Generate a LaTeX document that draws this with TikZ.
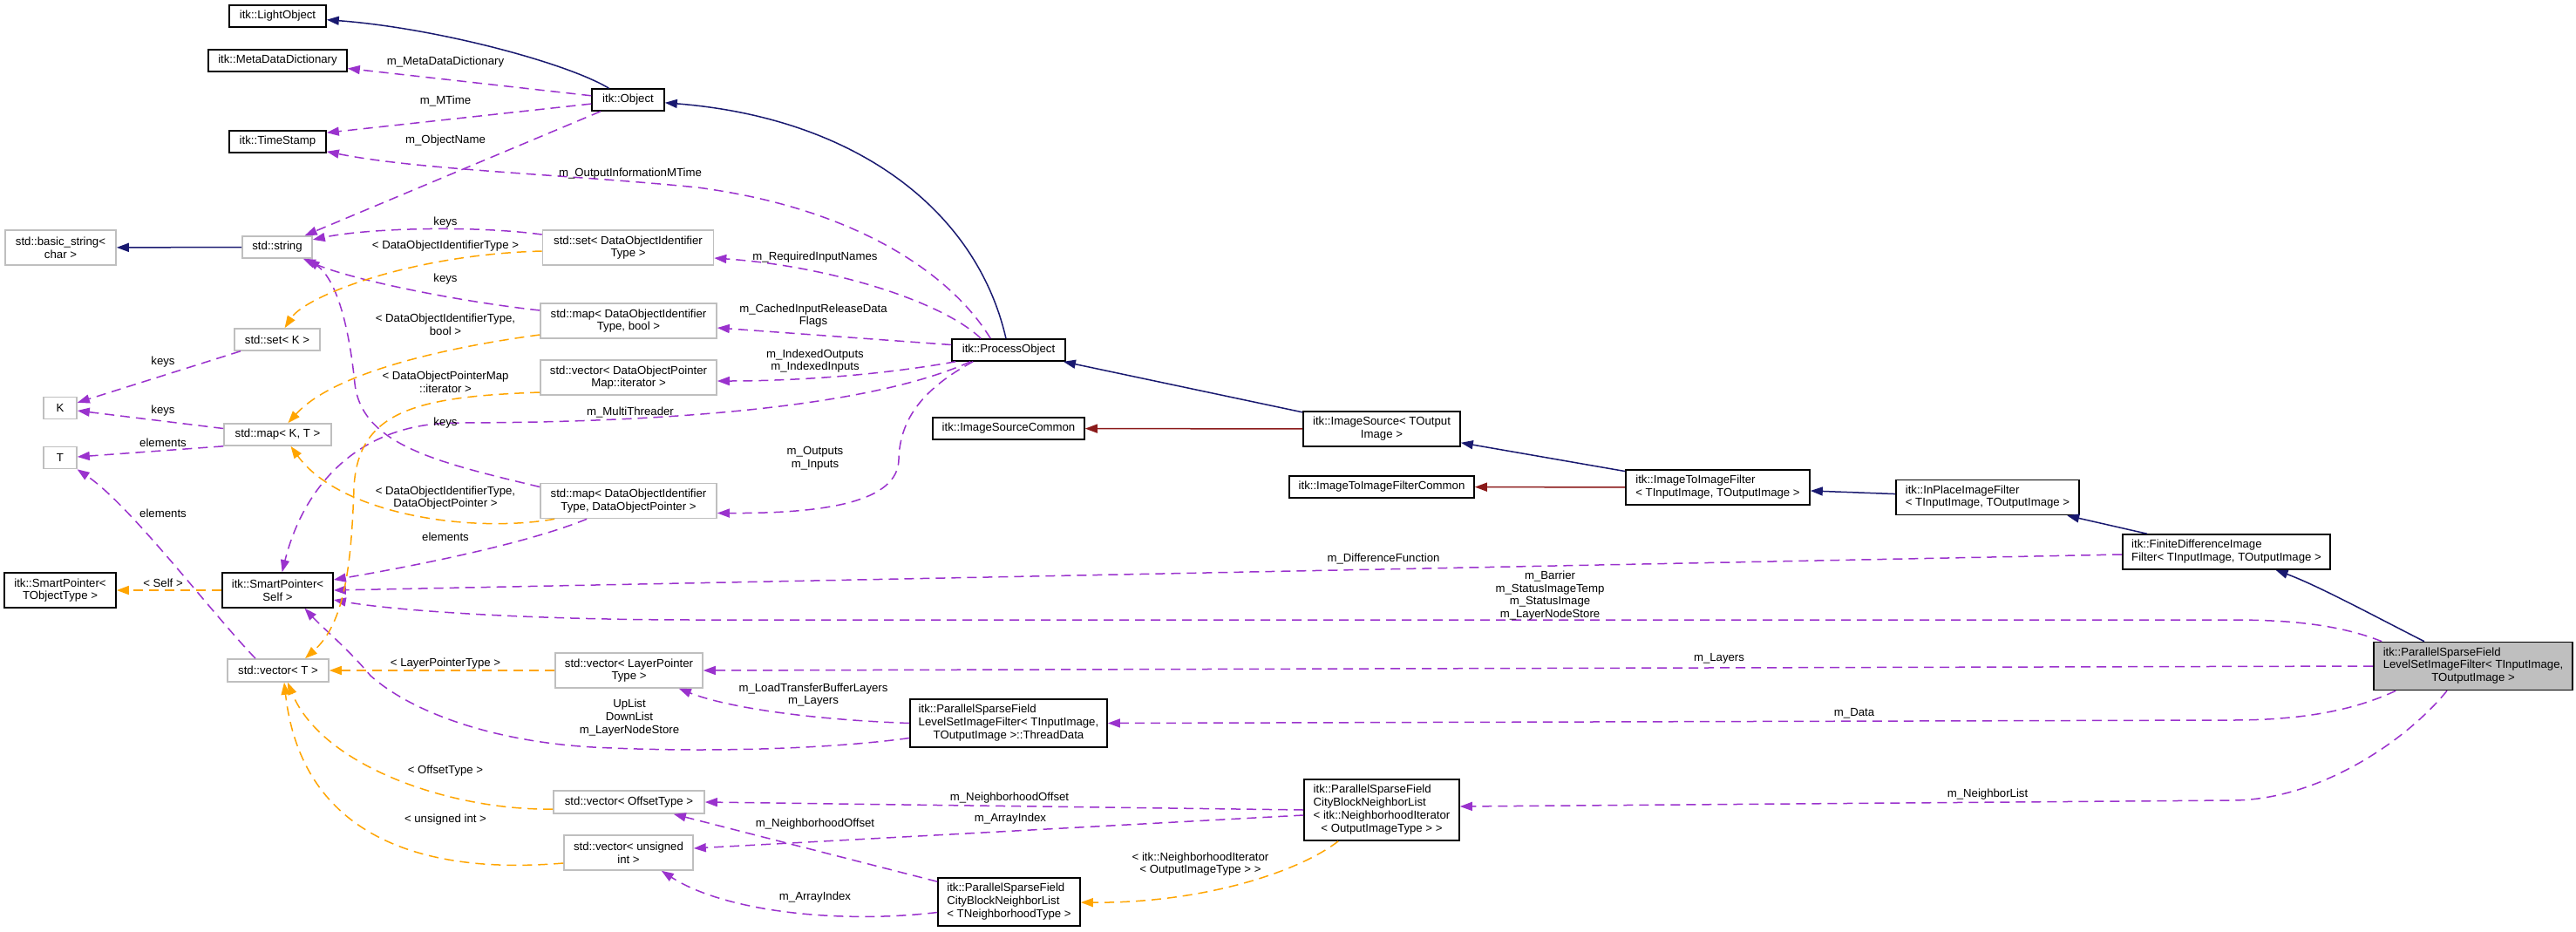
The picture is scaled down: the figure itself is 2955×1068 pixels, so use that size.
\documentclass[tikz,border=0pt]{standalone}
\usepackage{fontspec}
\setmainfont{Liberation Sans}
\usetikzlibrary{arrows.meta,calc}
\definecolor{inhblue}{HTML}{191970}
\definecolor{prvred}{HTML}{8B1A1A}
\definecolor{usepurple}{HTML}{9A32CD}
\definecolor{tplorange}{HTML}{FFA500}
\definecolor{gborder}{HTML}{BFBFBF}
\definecolor{mainfill}{HTML}{BFBFBF}
\newcommand\dfont{\fontsize{13.2}{14.7}\selectfont}
\newcommand\lblock[1]{\begin{tabular}{@{}l@{}}#1\end{tabular}}
\newcommand\mycen[1]{\multicolumn{1}{@{}c@{}}{#1}}
\begin{document}
\begin{tikzpicture}[x=1pt,y=-1pt, font=\dfont,
  nodebox/.style={line width=1.6pt, fill=white, inner sep=0pt, align=center},
  cls/.style={nodebox, draw=black},
  ext/.style={nodebox, draw=gborder},
  hl/.style={nodebox, draw=black, fill=mainfill},
  sz/.style 2 args={minimum width=#1pt, minimum height=#2pt},
  conn/.style={line width=1.5pt, -{Triangle[length=14pt,width=10pt]}},
  inh/.style={conn, draw=inhblue},
  prv/.style={conn, draw=prvred},
  usage/.style={conn, draw=usepurple, dash pattern=on 11pt off 7pt},
  tpl/.style={conn, draw=tplorange, dash pattern=on 11pt off 7pt},
  lbl/.style={inner sep=0pt, align=center}]
\fill[white] (0,0) rectangle (2955,1068);
\useasboundingbox (0,0) rectangle (2955,1068);

% nodes
\node[cls, sz={111}{25}] (lightobj) at (318.5,18.5) {itk::LightObject};
\node[cls, sz={159}{25}] (metadict) at (318.5,69.5) {itk::MetaDataDictionary};
\node[cls, sz={83}{25}] (object) at (720.5,114.5) {itk::Object};
\node[cls, sz={111}{25}] (timestamp) at (318.5,162.5) {itk::TimeStamp};
\node[ext, sz={127}{40}] (basicstr) at (69.5,284) {std::basic\_string<\\char >};
\node[ext, sz={80}{25}] (string) at (318,283.5) {std::string};
\node[ext, sz={196}{40}] (setdoit) at (720.5,284) {std::set< DataObjectIdentifier\\Type >};
\node[ext, sz={202}{40}] (mapbool) at (721,368) {std::map< DataObjectIdentifier\\Type, bool >};
\node[ext, sz={98}{25}] (setK) at (318,389.5) {std::set< K >};
\node[ext, sz={202}{40}] (vecdopm) at (721,433) {std::vector< DataObjectPointer\\Map::iterator >};
\node[ext, sz={38}{25}] (K) at (69,468) {K};
\node[ext, sz={123}{25}] (mapKT) at (318.5,498.5) {std::map< K, T >};
\node[ext, sz={38}{25}] (T) at (69,525) {T};
\node[ext, sz={202}{40}] (mapdop) at (721,574.5) {std::map< DataObjectIdentifier\\Type, DataObjectPointer >};
\node[cls, sz={128}{40}] (spTOT) at (69,677) {itk::SmartPointer<\\TObjectType >};
\node[cls, sz={127}{40}] (spSelf) at (318.5,677) {itk::SmartPointer<\\Self >};
\node[ext, sz={116}{26}] (vecT) at (319,769) {std::vector< T >};
\node[ext, sz={169}{40}] (veclpt) at (721.5,769) {std::vector< LayerPointer\\Type >};
\node[ext, sz={173}{26}] (vecoff) at (721.5,920) {std::vector< OffsetType >};
\node[ext, sz={148}{40}] (vecuint) at (721,978) {std::vector< unsigned\\int >};
\node[cls, sz={130}{25}] (processobj) at (1157,401.5) {itk::ProcessObject};
\node[cls, sz={174}{25}] (imgsrccommon) at (1157,491.5) {itk::ImageSourceCommon};
\node[cls, sz={226}{55}] (threaddata) at (1157,829.5) {\lblock{itk::ParallelSparseField\\LevelSetImageFilter< TInputImage,\\\mycen{TOutputImage >::ThreadData}}};
\node[cls, sz={163}{55}] (cbnlTNT) at (1157.5,1034.5) {\lblock{itk::ParallelSparseField\\CityBlockNeighborList\\< TNeighborhoodType >}};
\node[cls, sz={180}{40}] (imgsrc) at (1585,492) {\lblock{itk::ImageSource< TOutput\\\mycen{Image >}}};
\node[cls, sz={212}{25}] (i2icommon) at (1585,558.5) {itk::ImageToImageFilterCommon};
\node[cls, sz={178}{70}] (cbnlNI) at (1585,929) {\lblock{itk::ParallelSparseField\\CityBlockNeighborList\\< itk::NeighborhoodIterator\\\mycen{< OutputImageType > >}}};
\node[cls, sz={211}{40}] (i2i) at (1970.5,559) {\lblock{itk::ImageToImageFilter\\< TInputImage, TOutputImage >}};
\node[cls, sz={210}{40}] (inplace) at (2280,570.5) {\lblock{itk::InPlaceImageFilter\\< TInputImage, TOutputImage >}};
\node[cls, sz={238}{40}] (fd) at (2554,633) {\lblock{itk::FiniteDifferenceImage\\Filter< TInputImage, TOutputImage >}};
\node[hl, sz={228}{55}] (main) at (2837,764) {\lblock{itk::ParallelSparseField\\LevelSetImageFilter< TInputImage,\\\mycen{TOutputImage >}}};

% inheritance
\draw[inh] (object) .. controls (650,72) and (500,32) .. (lightobj);
\draw[inh] (processobj) .. controls (1120,240) and (980,135) .. (object);
\draw[inh] (imgsrc) -- (processobj);
\draw[inh] (i2i) -- (imgsrc);
\draw[inh] (inplace) -- (i2i);
\draw[inh] (fd) -- (inplace);
\draw[inh] (main) .. controls (2730,710) and (2660,672) .. (fd);
\draw[inh] (string) -- (basicstr);
\draw[prv] (imgsrc) -- (imgsrccommon);
\draw[prv] (i2i) -- (i2icommon);

% usage
\draw[usage] (object) -- (metadict);
\draw[usage] (object) -- ($(timestamp.north east)+(0,3)$);
\draw[usage] (object) -- (string);
\draw[usage] ($(processobj.north west)+(45,0)$) .. controls (1095,320) and (990,240) .. (800,215) .. controls (650,200) and (480,195) .. (timestamp);
\draw[usage] ($(processobj.north west)+(34,0)$) .. controls (1080,345) and (950,305) .. ($(setdoit.east)+(0,12)$);
\draw[usage] ($(processobj.west)+(0,-6)$) -- ($(mapbool.east)+(0,8)$);
\draw[usage] ($(processobj.south west)+(5,0)$) .. controls (1000,432) and (900,437) .. ($(vecdopm.east)+(0,4)$);
\draw[usage] ($(processobj.south west)+(22,0)$) .. controls (980,475) and (700,485) .. (520,485) .. controls (400,487) and (345,570) .. (spSelf);
\draw[usage] ($(processobj.south west)+(25,0)$) .. controls (1060,445) and (1032,480) .. (1031,527) .. controls (1030,575) and (950,589) .. ($(mapdop.east)+(0,14)$);
\draw[usage] ($(setdoit.west)+(0,-15)$) .. controls (540,258) and (420,262) .. (string);
\draw[usage] ($(mapbool.west)+(0,-12)$) .. controls (520,345) and (400,320) .. (string);
\draw[usage] ($(mapdop.west)+(0,-16)$) .. controls (500,530) and (415,510) .. (407,440) .. controls (400,370) and (385,320) .. ($(string.south east)+(-6,0)$);
\draw[usage] ($(mapdop.south west)+(54,0)$) .. controls (600,625) and (470,650) .. ($(spSelf.east)+(0,-12)$);
\draw[usage] (setK) -- (K);
\draw[usage] ($(mapKT.west)+(0,-7)$) -- ($(K.east)+(0,3)$);
\draw[usage] (mapKT.south west) -- ($(T.east)+(0,-1)$);
\draw[usage] ($(vecT.north)+(-26,0)$) .. controls (240,700) and (150,580) .. (T);
\draw[usage] ($(fd.west)+(0,3)$) -- (spSelf.east);
\draw[usage] ($(main.north west)+(10,0)$) .. controls (2680,715) and (2620,711) .. (2560,711) -- (800,711) .. controls (600,711) and (450,700) .. ($(spSelf.east)+(0,11)$);
\draw[usage] (main.west) -- (veclpt.east);
\draw[usage] ($(main.south west)+(26,0)$) .. controls (2700,815) and (2640,826) .. (2560,826) -- (threaddata.east);
\draw[usage] ($(main.south)+(-30,0)$) .. controls (2760,850) and (2660,918) .. (2560,918) -- ($(cbnlNI.east)+(0,-4)$);
\draw[usage] (threaddata.west) .. controls (920,825) and (830,810) .. ($(veclpt.south east)+(-28,0)$);
\draw[usage] ($(threaddata.west)+(0,17)$) .. controls (960,858) and (820,864) .. (680,857) .. controls (560,850) and (470,815) .. (425,775) .. controls (400,745) and (370,720) .. ($(spSelf.south)+(31,0)$);
\draw[usage] (cbnlNI.west) -- (vecoff.east);
\draw[usage] ($(cbnlNI.west)+(0,6)$) -- ($(vecuint.east)+(0,-5)$);
\draw[usage] ($(cbnlTNT.north west)+(0,5)$) -- ($(vecoff.south east)+(-36,0)$);
\draw[usage] ($(cbnlTNT.west)+(0,12)$) .. controls (960,1060) and (830,1045) .. ($(vecuint.south east)+(-37,0)$);

% template instances
\draw[tpl] (spSelf) -- (spTOT);
\draw[tpl] ($(setdoit.west)+(0,4)$) .. controls (470,292) and (350,340) .. (setK);
\draw[tpl] ($(mapbool.west)+(0,16)$) .. controls (500,400) and (380,430) .. (mapKT);
\draw[tpl] ($(vecdopm.west)+(0,17)$) .. controls (480,455) and (410,470) .. (406,560) .. controls (403,650) and (395,715) .. ($(vecT.north)+(31,0)$);
\draw[tpl] ($(mapdop.south west)+(17,0)$) .. controls (540,612) and (390,590) .. ($(mapKT.south)+(15,0)$);
\draw[tpl] (veclpt) -- (vecT);
\draw[tpl] ($(vecoff.west)+(0,8)$) .. controls (520,930) and (370,880) .. ($(vecT.south)+(11,0)$);
\draw[tpl] ($(vecuint.west)+(0,12)$) .. controls (470,1005) and (345,950) .. ($(vecT.south)+(7,0)$);
\draw[tpl] ($(cbnlNI.south west)+(40,0)$) .. controls (1490,1000) and (1380,1036) .. (cbnlTNT);

% labels
\node[lbl] (lmdd) at (511,71) {m\_MetaDataDictionary};
\node[lbl] (lmt) at (511,116) {m\_MTime};
\node[lbl] (lon) at (511,161) {m\_ObjectName};
\node[lbl] (loim) at (723,199) {m\_OutputInformationMTime};
\node[lbl] (lk1) at (511,255) {keys};
\node[lbl] (lt1) at (511,282) {< DataObjectIdentifierType >};
\node[lbl] (lk2) at (511,320) {keys};
\node[lbl] (lt2) at (511,372) {< DataObjectIdentifierType,\\bool >};
\node[lbl] (lk3) at (187,415) {keys};
\node[lbl] (lt3) at (511,438) {< DataObjectPointerMap\\::iterator >};
\node[lbl] (lk4) at (187,471) {keys};
\node[lbl] (lmth) at (723,473) {m\_MultiThreader};
\node[lbl] (lk5) at (511,485) {keys};
\node[lbl] (le1) at (187,508) {elements};
\node[lbl] (lt4) at (511,571) {< DataObjectIdentifierType,\\DataObjectPointer >};
\node[lbl] (le2) at (187,589) {elements};
\node[lbl] (le3) at (511,616) {elements};
\node[lbl] (lself) at (187,669) {< Self >};
\node[lbl] (lrin) at (935,295) {m\_RequiredInputNames};
\node[lbl] (lcir) at (933,362) {m\_CachedInputReleaseData\\Flags};
\node[lbl] (lio) at (935,414) {m\_IndexedOutputs\\m\_IndexedInputs};
\node[lbl] (lout) at (935,526) {m\_Outputs\\m\_Inputs};
\node[lbl] (ldf) at (1587,641) {m\_DifferenceFunction};
\node[lbl] (lbar) at (1778,683) {m\_Barrier\\m\_StatusImageTemp\\m\_StatusImage\\m\_LayerNodeStore};
\node[lbl] (llay) at (1972,755) {m\_Layers};
\node[lbl] (lltp) at (511,761) {< LayerPointerType >};
\node[lbl] (ldata) at (2127,818) {m\_Data};
\node[lbl] (lltb) at (933,797) {m\_LoadTransferBufferLayers\\m\_Layers};
\node[lbl] (lupl) at (722,823) {UpList\\DownList\\m\_LayerNodeStore};
\node[lbl] (lot) at (511,884) {< OffsetType >};
\node[lbl] (lnl) at (2280,911) {m\_NeighborList};
\node[lbl] (lno1) at (1158,915) {m\_NeighborhoodOffset};
\node[lbl] (lai1) at (1159,939) {m\_ArrayIndex};
\node[lbl] (lui) at (511,940) {< unsigned int >};
\node[lbl] (lno2) at (935,945) {m\_NeighborhoodOffset};
\node[lbl] (lni) at (1377,991) {< itk::NeighborhoodIterator\\< OutputImageType > >};
\node[lbl] (lai2) at (935,1029) {m\_ArrayIndex};
\end{tikzpicture}
\end{document}
